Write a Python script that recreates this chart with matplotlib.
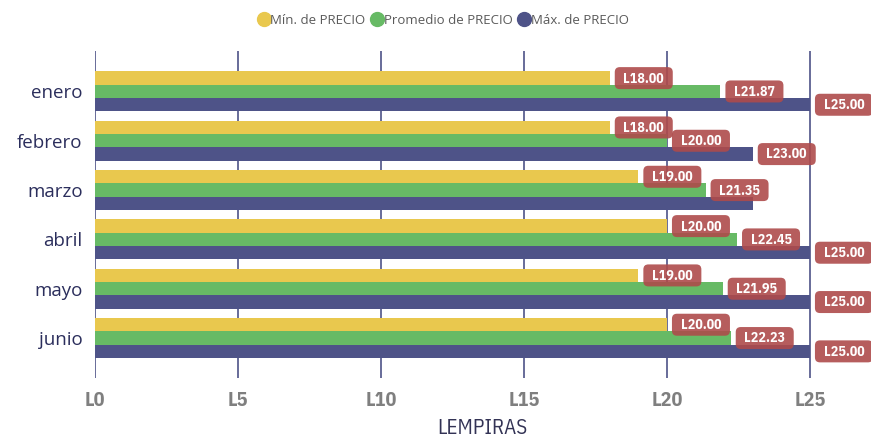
import matplotlib
matplotlib.use("Agg")
import matplotlib.pyplot as plt
import matplotlib.transforms as mtransforms
from matplotlib.patches import FancyBboxPatch
from matplotlib.lines import Line2D
import numpy as np

months = ["enero", "febrero", "marzo", "abril", "mayo", "junio"]
min_precio = [18.00, 18.00, 19.00, 20.00, 19.00, 20.00]
prom_precio = [21.87, 20.00, 21.35, 22.45, 21.95, 22.23]
max_precio = [25.00, 23.00, 23.00, 25.00, 25.00, 25.00]
series_names = ["Mín. de PRECIO", "Promedio de PRECIO", "Máx. de PRECIO"]
colors = ["#E9C84E", "#67BA65", "#4E5388"]
xticks = [0, 5, 10, 15, 20, 25]
xtick_labels = ["L0", "L5", "L10", "L15", "L20", "L25"]

COND = ["IBM Plex Sans Condensed", "DejaVu Sans"]
SANS = ["Open Sans", "DejaVu Sans"]

fig = plt.figure(figsize=(8.71, 4.47), dpi=100)
ax = fig.add_axes([95 / 871, (447 - 378) / 447, 775 / 871, (378 - 51) / 447])
ax.set_xlim(0, 27.1)
ax.set_ylim(5.81, -0.82)

y = np.arange(len(months))
h = 0.27
series = [min_precio, prom_precio, max_precio]
BOX_W, BOX_H, GAP = 58, 22, 5  # pixels
px_per_unit = ax.transData.transform((1, 0))[0] - ax.transData.transform((0, 0))[0]

for i, (vals, col) in enumerate(zip(series, colors)):
    ax.barh(y + (i - 1) * h, vals, height=h, color=col, zorder=2)

# data labels; a label that would collide with the previous one in its group is hidden
for j in range(len(months)):
    prev_end = None
    for i, vals in enumerate(series):
        v = vals[j]
        p = y[j] + (i - 1) * h
        start_px = v * px_per_unit + GAP
        if prev_end is not None and prev_end - start_px > 3:
            continue
        prev_end = start_px + BOX_W
        tr = mtransforms.Affine2D() + mtransforms.ScaledTranslation(v, p, ax.transData)
        box = FancyBboxPatch((GAP, -BOX_H / 2), BOX_W, BOX_H,
                             boxstyle="round,pad=0,rounding_size=5",
                             fc="#AE4B4B", ec="none", alpha=0.9,
                             transform=tr, zorder=4, clip_on=False)
        ax.add_patch(box)
        ax.annotate(f"L{v:.2f}", xy=(v, p), xytext=((GAP + BOX_W / 2) * 0.72, -0.3),
                    textcoords="offset points", ha="center", va="center",
                    fontsize=10, fontweight="bold", color="white",
                    family=COND, zorder=5, annotation_clip=False)

for xv in xticks:
    ax.axvline(xv, color="#4E5388", lw=1.2, zorder=1)

ax.set_xticks(xticks)
ax.set_xticklabels(xtick_labels, family=COND, fontweight="bold",
                   fontsize=14.5, color="#7F7F7F")
ax.set_yticks(y)
ax.set_yticklabels(months, family=SANS, fontsize=13.5, color="#2B2E5C")
ax.tick_params(axis="x", length=0, pad=9)
ax.tick_params(axis="y", length=0, pad=9)
for s in ax.spines.values():
    s.set_visible(False)

ax.set_xlabel("LEMPIRAS", family=COND, fontsize=15, color="#333355", labelpad=7)

handles = [Line2D([0], [0], marker="o", ls="none", markersize=10,
                  markerfacecolor=c, markeredgecolor=c) for c in colors]
fig.legend(handles, series_names, loc="center", bbox_to_anchor=(443 / 871, 1 - 20 / 447),
           ncol=3, frameon=False, handletextpad=0.0, columnspacing=0.4,
           prop={"family": SANS, "size": 9.5},
           labelcolor="#5A5A5A", handlelength=1.0)

fig.savefig("out.png", dpi=100, facecolor="white")
